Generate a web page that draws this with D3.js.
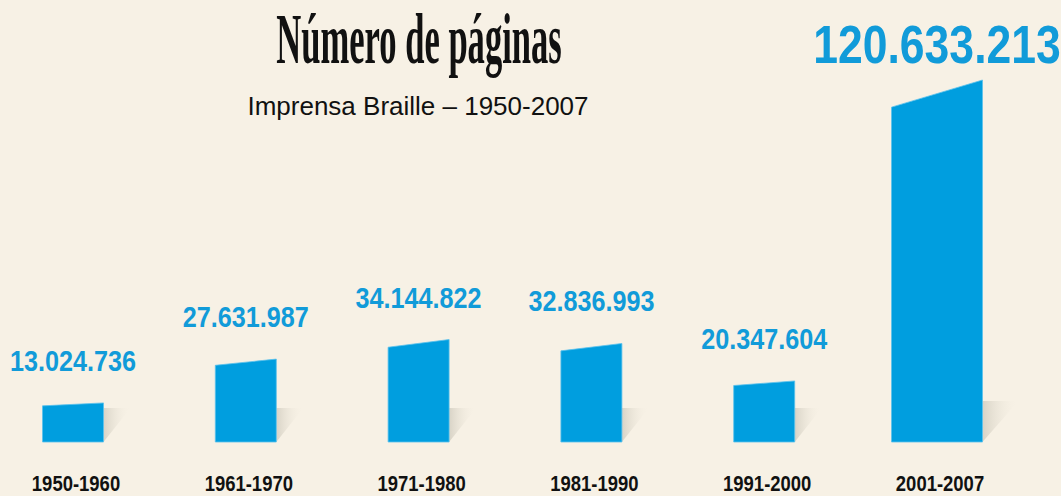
<!DOCTYPE html>
<html><head><meta charset="utf-8">
<script src="https://cdn.jsdelivr.net/npm/d3@7"></script>
<style>
html,body{margin:0;padding:0;background:#f7f1e5;}
svg{display:block;}
</style></head>
<body>
<script>
const categories = ["1950-1960","1961-1970","1971-1980","1981-1990","1991-2000","2001-2007"];
const values = [13024736, 27631987, 34144822, 32836993, 20347604, 120633213];
const valueLabels = ["13.024.736","27.631.987","34.144.822","32.836.993","20.347.604","120.633.213"];
const title = "Número de páginas";
const subtitle = "Imprensa Braille – 1950-2007";

const W = 1061, H = 496;
const bg = "#f7f1e5", blue = "#009edf", labelBlue = "#119bd9";
const svg = d3.select("body").append("svg").attr("width", W).attr("height", H);
svg.append("rect").attr("width", W).attr("height", H).attr("fill", bg);

const defs = svg.append("defs");
const grad = defs.append("linearGradient").attr("id","shadow").attr("x1","0").attr("x2","1").attr("y1","0").attr("y2","0");
grad.append("stop").attr("offset","0").attr("stop-color","#d8d3c6");
grad.append("stop").attr("offset","1").attr("stop-color",bg).attr("stop-opacity",0);

const x = d3.scalePoint().domain(categories).range([73, 937]);
const baseY = 442;
const y = d3.scaleLinear().domain([0, d3.max(values)]).range([baseY, 80]);
const last = categories.length - 1;

const g = svg.append("g");
categories.forEach((c, i) => {
  const v = values[i];
  const bw = i === last ? 91 : 61;
  const cx = x(c);
  const l = cx - bw/2, r = cx + bw/2;
  const yr = y(v), yl = y(v * 0.925);
  const sh = i === last ? 41 : 34, sw = i === last ? 36 : 27;
  g.append("path")
    .attr("d", `M${r},${baseY - sh}L${r + sw},${baseY - sh}L${r},${baseY}Z`)
    .attr("fill","url(#shadow)");
  g.append("path")
    .attr("d", `M${l},${baseY}L${l},${yl}L${r},${yr}L${r},${baseY}Z`)
    .attr("fill", blue).attr("stroke","#5cc1ec").attr("stroke-width",0.8);
  const big = i === last;
  g.append("text")
    .attr("transform", `translate(${cx},${yr - (big ? 17 : 32)}) scale(0.84,1)`)
    .attr("text-anchor","middle")
    .attr("font-family","'Liberation Sans', Arial, sans-serif")
    .attr("font-weight","bold")
    .attr("font-size", big ? 53 : 30)
    .attr("fill", labelBlue)
    .text(valueLabels[i]);
  g.append("text")
    .attr("transform", `translate(${cx + 3},491) scale(0.84,1)`)
    .attr("text-anchor","middle")
    .attr("font-family","'Liberation Sans', Arial, sans-serif")
    .attr("font-weight","bold")
    .attr("font-size", 22)
    .attr("fill", "#111")
    .text(c);
});

svg.append("text")
  .attr("transform","translate(419,63) scale(0.48,1)")
  .attr("text-anchor","middle")
  .attr("font-family","'Liberation Serif', 'Times New Roman', serif")
  .attr("font-weight","bold")
  .attr("font-size", 72)
  .attr("fill","#111")
  .text(title);

svg.append("text")
  .attr("x",418).attr("y",115)
  .attr("text-anchor","middle")
  .attr("font-family","'Liberation Sans', Arial, sans-serif")
  .attr("font-size", 26)
  .attr("fill","#111")
  .text(subtitle);
</script>
</body></html>
